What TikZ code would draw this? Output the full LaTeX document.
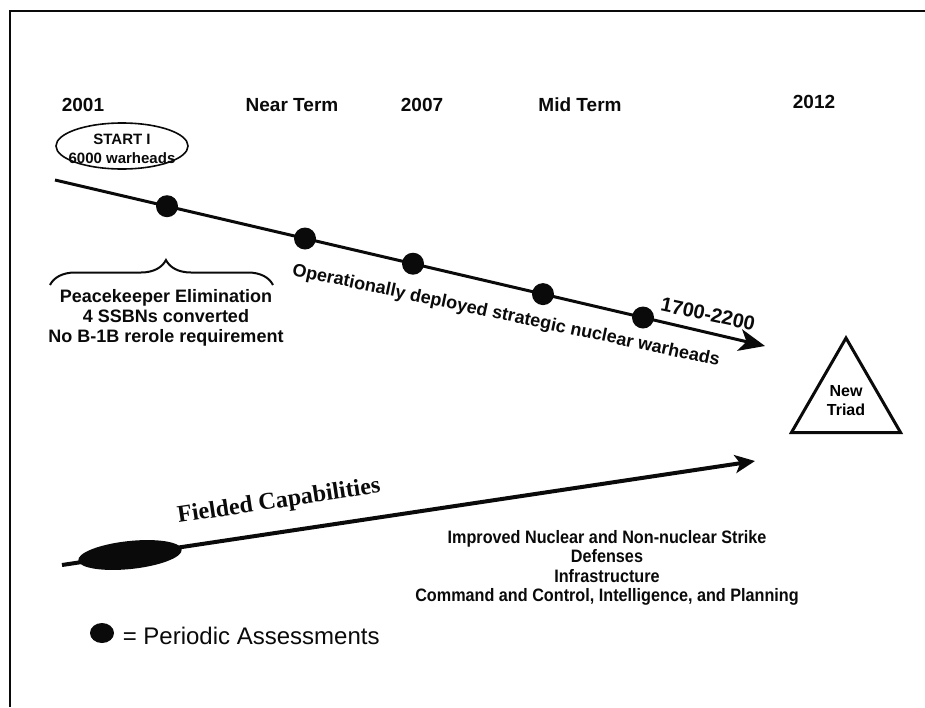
\documentclass[tikz,border=0pt]{standalone}
\usepackage{fontspec}
\setmainfont{Liberation Sans}
\newfontfamily\narrowsans[FakeStretch=0.9]{Liberation Sans}
\newfontfamily\capserif{Liberation Serif}
\usetikzlibrary{shapes.geometric, arrows.meta, positioning, decorations.pathreplacing, calc}
\definecolor{ink}{HTML}{0A0A0A}
\tikzset{
  borderline/.style={draw=ink, line width=1pt},
  yearlbl/.style={font=\bfseries\fontsize{9.5}{11}\selectfont, text=ink, inner sep=0pt},
  treaty/.style={ellipse, draw=ink, line width=0.8pt, minimum width=66pt, minimum height=23pt, inner sep=0pt},
  treatylbl/.style={font=\bfseries\fontsize{7.5}{9.5}\selectfont, text=ink, align=center, inner sep=0pt},
  assess/.style={circle, fill=ink, minimum size=11pt, inner sep=0pt},
  legdotstyle/.style={ellipse, fill=ink, minimum width=12pt, minimum height=10pt, inner sep=0pt},
  blob/.style={ellipse, fill=ink, minimum width=52pt, minimum height=14pt, inner sep=0pt},
  triad/.style={regular polygon, regular polygon sides=3, draw=ink, line width=1.5pt,
    minimum size=63pt, inner sep=0pt, align=center, font=\bfseries\fontsize{8}{9.5}\selectfont},
  ar/.style={-{Stealth[length=13pt, width=11pt, inset=3.5pt]}, draw=ink, line width=1.5pt},
  arfield/.style={-{Stealth[length=10pt, width=9pt, inset=2.5pt]}, draw=ink, line width=2pt},
  braceln/.style={draw=ink, line width=1pt, decorate, decoration={brace, amplitude=12.5pt, aspect=0.52}},
  lb/.style={font=\bfseries\fontsize{9}{10}\selectfont, text=ink, align=center, inner sep=0pt},
  lbnarrow/.style={font=\narrowsans\bfseries\fontsize{9}{9.75}\selectfont, text=ink, align=center, inner sep=0pt},
  lbserif/.style={font=\capserif\bfseries\fontsize{12}{14}\selectfont, text=ink, inner sep=0pt},
  legtxt/.style={font=\fontsize{12}{14}\selectfont, text=ink, inner sep=0pt},
}

\begin{document}
\begin{tikzpicture}[x=0.5pt, y=-0.5pt]
\useasboundingbox (0,0) rectangle (925,707);

% -- frame --
\draw[borderline] (925,11) -- (10,11) -- (10,707);

%% ===== NODES =====
% -- time scale --
\node[yearlbl] (Y01) at (83,105) {2001};
\node[yearlbl] (NT)  at (292,105) {Near Term};
\node[yearlbl] (Y07) at (422,105) {2007};
\node[yearlbl] (MT)  at (580,105) {Mid Term};
\node[yearlbl] (Y12) at (814,102) {2012};

% -- START I --
\node[treaty]    (START) at (122,146) {};
\node[treatylbl] (STARTL) at (122,149) {START I\\6000 warheads};

% -- warhead line --
\coordinate (WS) at (55,180);
\coordinate (WE) at (765,346);
\draw[ar] (WS) -- (WE);
\node[assess] (A1) at (167,206.2) {};
\node[assess] (A2) at (305,238.5) {};
\node[assess] (A3) at (413,263.7) {};
\node[assess] (A4) at (543,294.1) {};
\node[assess] (A5) at (643,317.5) {};
\node[lb, rotate=-12] (OPS) at (506,316) {Operationally deployed strategic nuclear warheads};
\node[lb, rotate=-12, font=\bfseries\fontsize{10}{12}\selectfont] (GOAL) at (708,314) {1700-2200};

% -- brace --
\coordinate (BL) at (50,285);
\coordinate (BR) at (273,285);
\draw[braceln] (BL) -- (BR);
\node[lb] (STEPS) at (166,318) {Peacekeeper Elimination\\4 SSBNs converted\\No B-1B rerole requirement};

% -- New Triad --
\node[triad] (TRIAD) at (846,401) {New\\Triad};

% -- fielded capabilities --
\coordinate (FS) at (62,565);
\coordinate (FE) at (755,461);
\draw[arfield] (FS) -- (FE);
\node[blob, rotate=6] (FB) at (130,555) {};
\node[lbserif, rotate=8.5] (FCAP) at (279,502) {Fielded Capabilities};
\node[lbnarrow] (AREAS) at (607,568) {Improved Nuclear and Non-nuclear Strike\\Defenses\\Infrastructure\\Command and Control, Intelligence, and Planning};

% -- legend --
\node[legdotstyle] (LEGDOT) at (102,633) {};
\node[legtxt, right=4pt of LEGDOT, yshift=-1.5pt] (LEGTXT) {= Periodic Assessments};
\end{tikzpicture}
\end{document}
